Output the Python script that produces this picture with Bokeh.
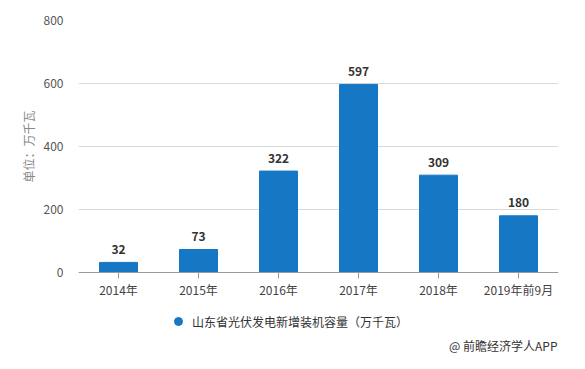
from bokeh.plotting import figure
from bokeh.models import ColumnDataSource, Legend, LegendItem, Label, Title, FactorRange, Range1d
from bokeh.core.properties import value
from bokeh.embed import file_html
from bokeh.resources import INLINE

categories = ["2014年", "2015年", "2016年", "2017年", "2018年", "2019年前9月"]
values = [32, 73, 322, 597, 309, 180]
value_labels = [str(v) for v in values]
y_ticks = [0, 200, 400, 600, 800]
series_name = "山东省光伏发电新增装机容量（万千瓦）"
y_title = "单位：万千瓦"
credit = "@ 前瞻经济学人APP"

FONT = "Noto Sans CJK SC"
BLUE = "#1677C5"

W, H = 577, 361
TOP, LEFT, RIGHT = 20, 78, 19
ZERO_PX = 272            # pixel row of value 0
PX_PER_UNIT = (ZERO_PX - TOP) / 800.0
y_start = -(H - ZERO_PX) / PX_PER_UNIT

src = ColumnDataSource(dict(cat=categories, val=values, lab=value_labels))

p = figure(width=W, height=H, output_backend="svg", toolbar_location=None,
           x_range=FactorRange(*categories, range_padding=0),
           y_range=Range1d(y_start, 800),
           min_border_left=LEFT, min_border_right=RIGHT, min_border_top=TOP, min_border_bottom=0)
p.outline_line_color = None
p.background_fill_color = "white"
p.border_fill_color = "white"

p.vbar(x="cat", top="val", bottom=0, width=0.475, source=src, color=BLUE)
p.text(x="cat", y="val", text="lab", source=src, text_align="center",
       text_baseline="alphabetic", y_offset=-13, text_font=value(FONT),
       text_font_size="12px", text_font_style="bold", text_color="#333333")

# grid
p.xgrid.grid_line_color = None
p.ygrid.grid_line_color = "#d9d9d9"
p.ygrid.ticker = y_ticks

# y axis
p.yaxis.ticker = y_ticks
p.yaxis.axis_line_color = None
p.yaxis.major_tick_line_color = None
p.yaxis.minor_tick_line_color = None
p.yaxis.major_tick_out = 0
p.yaxis.major_label_standoff = 15
p.yaxis.major_label_text_font = FONT
p.yaxis.major_label_text_font_size = "12px"
p.yaxis.major_label_text_color = "#555555"

p.add_layout(Title(text=y_title, align="left", offset=H - 182, text_font=FONT,
                   text_font_size="12px", text_font_style="normal",
                   text_color="#888888", standoff=7), "left")

# x axis drawn at value 0
p.xaxis.fixed_location = 0
p.xaxis.axis_line_color = "#9a9a9a"
p.xaxis.major_tick_line_color = "#9a9a9a"
p.xaxis.major_tick_in = 0
p.xaxis.major_tick_out = 6
p.xaxis.minor_tick_line_color = None
p.xaxis.major_label_standoff = 2
p.xaxis.major_label_text_font = FONT
p.xaxis.major_label_text_font_size = "12px"
p.xaxis.major_label_text_color = "#444444"

# legend with circle marker
dummy = p.scatter(x=[categories[0]], y=[-5000], size=12, color=BLUE, marker="circle")
legend = Legend(items=[LegendItem(label=series_name, renderers=[dummy])],
                location=(90, 30), padding=0, margin=0, border_line_color=None,
                background_fill_alpha=0, label_standoff=4,
                label_text_font=FONT, label_text_font_size="12px",
                label_text_color="#333333", glyph_width=20, glyph_height=20)
p.add_layout(legend, "center")

p.add_layout(Label(x=479, y=H - 345, x_units="screen", y_units="screen", text=credit,
                   text_font=FONT, text_font_size="12px", text_color="#333333",
                   text_baseline="middle", text_align="right"))

open("out.html", "w").write(file_html(p, INLINE))
